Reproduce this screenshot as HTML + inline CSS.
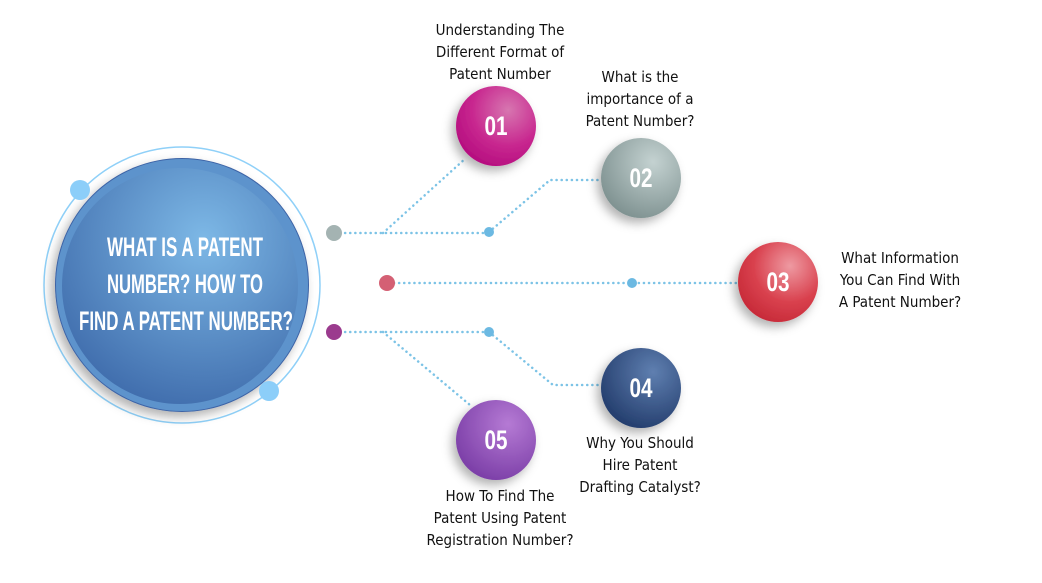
<!DOCTYPE html>
<html><head><meta charset="utf-8"><style>
body{margin:0;background:#fff;width:1042px;height:583px;overflow:hidden}
.t{position:absolute;font-family:"DejaVu Sans Condensed","Liberation Sans",sans-serif;font-size:15px;line-height:22px;color:#111;text-align:center}
</style></head><body>
<svg width="1042" height="583" style="position:absolute;left:0;top:0" font-family="'Liberation Sans Narrow','Liberation Sans',sans-serif">
<defs>
<radialGradient id="gm" cx="0.6" cy="0.3" r="0.8"><stop offset="0" stop-color="#7db8e6"/><stop offset="1" stop-color="#3b67a8"/></radialGradient>
<radialGradient id="g1" cx="0.65" cy="0.3" r="0.75"><stop offset="0" stop-color="#d776b0"/><stop offset="0.6" stop-color="#c8278f"/><stop offset="1" stop-color="#b50d7f"/></radialGradient>
<radialGradient id="g2" cx="0.65" cy="0.3" r="0.75"><stop offset="0" stop-color="#c4d2d1"/><stop offset="1" stop-color="#7f9291"/></radialGradient>
<radialGradient id="g3" cx="0.65" cy="0.3" r="0.75"><stop offset="0" stop-color="#ee9aa2"/><stop offset="0.6" stop-color="#d9414e"/><stop offset="1" stop-color="#c72a38"/></radialGradient>
<radialGradient id="g4" cx="0.65" cy="0.3" r="0.75"><stop offset="0" stop-color="#5f7fb0"/><stop offset="1" stop-color="#233d6d"/></radialGradient>
<radialGradient id="g5" cx="0.65" cy="0.3" r="0.75"><stop offset="0" stop-color="#b57ad4"/><stop offset="1" stop-color="#7b3ea7"/></radialGradient>
<filter id="sh" x="-50%" y="-50%" width="200%" height="200%"><feDropShadow dx="-4" dy="5" stdDeviation="5" flood-color="#000" flood-opacity="0.3"/></filter>
</defs>
<g stroke="#7cc3e6" stroke-width="2.5" stroke-dasharray="0.1 5" stroke-linecap="round" fill="none">
<path d="M340 233H489"/><path d="M383 233L466 158"/><path d="M489 232L550 180H602"/>
<path d="M394 283H740"/>
<path d="M340 332H489"/><path d="M383 332L470 405"/><path d="M489 332L553 385H602"/>
</g>
<circle cx="182" cy="285" r="138" fill="none" stroke="#8fd0f8" stroke-width="1.5"/>
<circle cx="182" cy="285" r="127" fill="#3c64a6" filter="url(#sh)"/>
<circle cx="182" cy="285" r="126" fill="#5d93cc"/>
<circle cx="180" cy="286" r="118" fill="url(#gm)"/>
<circle cx="80" cy="190" r="10" fill="#8ccef9"/>
<circle cx="269" cy="391" r="10" fill="#8ccef9"/>
<circle cx="334" cy="233" r="8" fill="#a4b3b2"/>
<circle cx="387" cy="283" r="8" fill="#d46074"/>
<circle cx="334" cy="332" r="8" fill="#9b3b8e"/>
<circle cx="489" cy="232" r="5" fill="#6cb9e2"/>
<circle cx="632" cy="283" r="5" fill="#6cb9e2"/>
<circle cx="489" cy="332" r="5" fill="#6cb9e2"/>
<g filter="url(#sh)">
<circle cx="496" cy="126" r="40" fill="url(#g1)"/>
<circle cx="641" cy="178" r="40" fill="url(#g2)"/>
<circle cx="778" cy="282" r="40" fill="url(#g3)"/>
<circle cx="641" cy="388" r="40" fill="url(#g4)"/>
<circle cx="496" cy="440" r="40" fill="url(#g5)"/>
</g>
<g fill="#fff" font-size="27" font-weight="bold" text-anchor="middle">
<text x="496" y="135" textLength="23" lengthAdjust="spacingAndGlyphs">01</text>
<text x="641" y="187" textLength="23" lengthAdjust="spacingAndGlyphs">02</text>
<text x="778" y="291" textLength="23" lengthAdjust="spacingAndGlyphs">03</text>
<text x="641" y="397" textLength="23" lengthAdjust="spacingAndGlyphs">04</text>
<text x="496" y="449" textLength="23" lengthAdjust="spacingAndGlyphs">05</text>
</g>
<g fill="#fff" font-size="27" font-weight="bold" text-anchor="middle">
<text x="185" y="256" textLength="156" lengthAdjust="spacingAndGlyphs">WHAT IS A PATENT</text>
<text x="185" y="293" textLength="156" lengthAdjust="spacingAndGlyphs">NUMBER? HOW TO</text>
<text x="186" y="330" textLength="214" lengthAdjust="spacingAndGlyphs">FIND A PATENT NUMBER?</text>
</g>
</svg>
<div class="t" style="left:400px;top:19px;width:200px">Understanding The<br>Different Format of<br>Patent Number</div>
<div class="t" style="left:550px;top:66px;width:180px">What is the<br>importance of a<br>Patent Number?</div>
<div class="t" style="left:810px;top:247px;width:180px">What Information<br>You Can Find With<br>A Patent Number?</div>
<div class="t" style="left:550px;top:432px;width:180px">Why You Should<br>Hire Patent<br>Drafting Catalyst?</div>
<div class="t" style="left:400px;top:485px;width:200px">How To Find The<br>Patent Using Patent<br>Registration Number?</div>
</body></html>
